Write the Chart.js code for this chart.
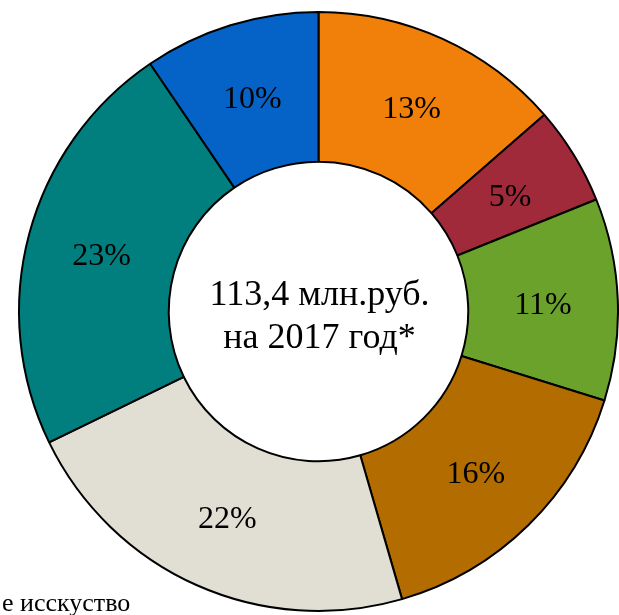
<!DOCTYPE html>
<html>
<head>
<meta charset="utf-8">
<script src="https://cdn.jsdelivr.net/npm/chart.js@4/dist/chart.umd.min.js"></script>
<style>
  html, body { margin: 0; padding: 0; background: #fff; overflow: hidden; }
  #wrap { position: relative; width: 619px; height: 615px; }
  #note { position: absolute; left: 2px; top: 588px; font: 26px "Liberation Serif", "Times New Roman", serif; color: #000; white-space: nowrap; }
</style>
</head>
<body>
<div id="wrap">
  <canvas id="myChart" width="619" height="615"></canvas>
  <div id="note">е исскуство</div>
</div>
<script>
// shares, clockwise from the top
const shares = [13.6, 5.3, 10.9, 15.7, 22.3, 22.7, 9.5];
const percentLabels = ['13%', '5%', '11%', '16%', '22%', '23%', '10%'];
const sliceColors = [
    '#F0800A', // оранжевый
    '#A12A3A', // бордовый
    '#6BA22B', // зелёный
    '#B26C00', // коричневый
    '#E1DED3', // бежевый
    '#017F7E', // бирюзовый
    '#0563C8'  // синий
];
const centerLines = ['113,4 млн.руб.', 'на 2017 год*'];

const labelPlugin = {
    id: 'labelPlugin',
    afterDatasetsDraw(chart) {
        const ctx = chart.ctx;
        const meta = chart.getDatasetMeta(0);
        ctx.save();
        ctx.fillStyle = '#000';
        ctx.textAlign = 'center';
        ctx.textBaseline = 'middle';
        ctx.font = '32px "Liberation Serif", "Times New Roman", serif';
        meta.data.forEach((arc, i) => {
            const p = arc.tooltipPosition();
            ctx.fillText(percentLabels[i], p.x, p.y + 3);
        });
        //center text
        const first = meta.data[0];
        ctx.font = '36px "Liberation Serif", "Times New Roman", serif';
        ctx.fillText(centerLines[0], first.x + 1, first.y - 16);
        ctx.fillText(centerLines[1], first.x + 1, first.y + 27);
        ctx.restore();
    }
};

const ctx = document.getElementById('myChart');
new Chart(ctx, {
    type: 'doughnut',
    data: {
        labels: percentLabels,
        datasets: [{
            data: shares,
            backgroundColor: sliceColors,
            borderColor: '#000',
            borderWidth: 2
        }]
    },
    options: {
        responsive: false,
        animation: false,
        cutout: '50%',
        layout: { padding: { left: 18, right: 0, top: 11, bottom: 3 } },
        plugins: {
            legend: { display: false },
            tooltip: { enabled: false }
        }
    },
    plugins: [labelPlugin]
});
</script>
</body>
</html>
